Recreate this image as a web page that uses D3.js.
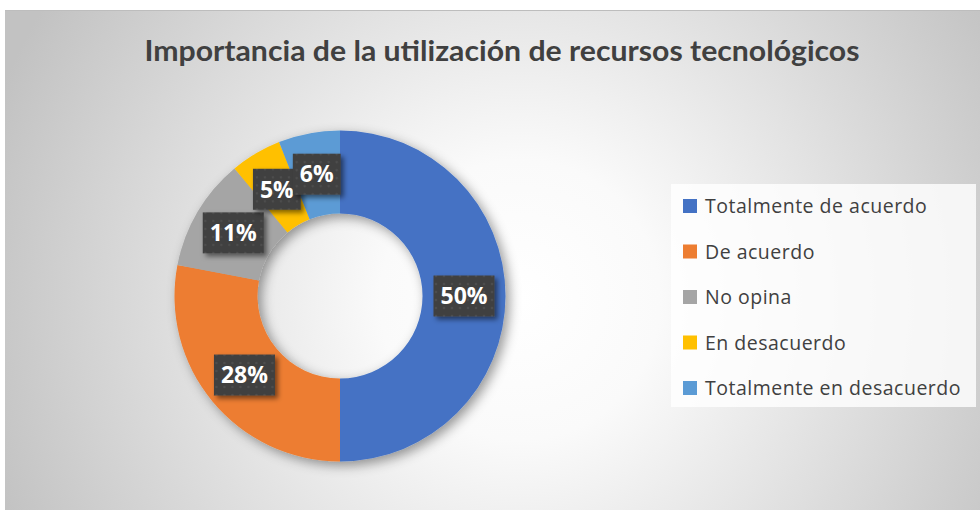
<!DOCTYPE html>
<html>
<head>
<meta charset="utf-8">
<script src="https://cdn.jsdelivr.net/npm/d3@7"></script>
<style>
  html, body { margin: 0; padding: 0; background: #fff; }
  svg { display: block; }
</style>
</head>
<body>
<svg id="chart" width="980" height="510"></svg>
<script>
// data
var categories = ["Totalmente de acuerdo", "De acuerdo", "No opina", "En desacuerdo", "Totalmente en desacuerdo"];
var values = [50, 28, 11, 5, 6];
var colors = ["#4472C4", "#ED7D31", "#A5A5A5", "#FFC000", "#5B9BD5"];
var title = "Importancia de la utilización de recursos tecnológicos";

var svg = d3.select("#chart");
var defs = svg.append("defs");

// background gradient of the chart area
var grad = defs.append("radialGradient")
  .attr("id", "bg")
  .attr("gradientUnits", "userSpaceOnUse")
  .attr("cx", 520).attr("cy", 300).attr("r", 560);
grad.append("stop").attr("offset", "0").attr("stop-color", "#ffffff");
grad.append("stop").attr("offset", "0.25").attr("stop-color", "#fafafa");
grad.append("stop").attr("offset", "1").attr("stop-color", "#c2c2c2");

var shadow = defs.append("filter").attr("id", "shadow")
  .attr("x", "-20%").attr("y", "-20%").attr("width", "150%").attr("height", "150%");
shadow.append("feDropShadow")
  .attr("dx", 4).attr("dy", 4).attr("stdDeviation", 6)
  .attr("flood-color", "#000").attr("flood-opacity", 0.4);

var boxShadow = defs.append("filter").attr("id", "boxshadow")
  .attr("x", "-30%").attr("y", "-30%").attr("width", "170%").attr("height", "170%");
boxShadow.append("feDropShadow")
  .attr("dx", 3).attr("dy", 3).attr("stdDeviation", 2.5)
  .attr("flood-color", "#000").attr("flood-opacity", 0.5);

var pat = defs.append("pattern").attr("id", "dots")
  .attr("patternUnits", "userSpaceOnUse").attr("width", 8).attr("height", 8);
pat.append("rect").attr("width", 8).attr("height", 8).attr("fill", "#404040");
pat.append("circle").attr("cx", 4).attr("cy", 4).attr("r", 1.3).attr("fill", "#4d4d4d");

// chart area
svg.append("rect")
  .attr("x", 5).attr("y", 10).attr("width", 975).attr("height", 500)
  .attr("fill", "url(#bg)");
svg.append("line")
  .attr("x1", 5).attr("x2", 980).attr("y1", 10.5).attr("y2", 10.5)
  .attr("stroke", "#bdbdbd");

// title
svg.append("text")
  .attr("x", 502).attr("y", 61)
  .attr("text-anchor", "middle")
  .attr("font-family", "Lato, 'Open Sans', sans-serif")
  .attr("font-weight", "bold")
  .attr("font-size", 28)
  .attr("fill", "#404040")
  .attr("textLength", 715)
  .attr("lengthAdjust", "spacingAndGlyphs")
  .text(title);

// donut
var cx = 340, cy = 296, outerR = 165.5, innerR = 82.5;

var pie = d3.pie().sort(null).value(function(d) { return d; });
var arc = d3.arc().innerRadius(innerR).outerRadius(outerR);

var g = svg.append("g").attr("transform", "translate(" + cx + "," + cy + ")");

g.append("g").attr("filter", "url(#shadow)")
  .selectAll("path")
  .data(pie(values))
  .enter().append("path")
  .attr("d", arc)
  .attr("fill", function(d, i) { return colors[i]; });

// data labels
var labels = g.selectAll(".lbl")
  .data(pie(values))
  .enter().append("g")
  .attr("class", "lbl")
  .attr("transform", function(d) { return "translate(" + arc.centroid(d) + ")"; });

labels.append("rect").attr("class", "box");
labels.append("text")
  .attr("text-anchor", "middle")
  .attr("dy", "0.36em")
  .attr("font-family", "'Open Sans', sans-serif")
  .attr("font-weight", "bold")
  .attr("font-size", 23)
  .attr("fill", "#ffffff")
  .text(function(d) { return d.data + "%"; });

labels.each(function() {
  var t = d3.select(this).select("text").node();
  var w = t.getComputedTextLength() + 14;
  d3.select(this).select("rect")
    .attr("x", -w / 2).attr("y", -20.5)
    .attr("width", w).attr("height", 41)
    .attr("fill", "url(#dots)")
    .attr("filter", "url(#boxshadow)");
});

// legend
var legend = svg.append("g");
legend.append("rect")
  .attr("x", 671).attr("y", 184).attr("width", 305).attr("height", 223)
  .attr("fill", "#ffffff").attr("fill-opacity", 0.8);

var rowY = d3.scalePoint().domain(categories).range([206, 388]);

var item = legend.selectAll(".item")
  .data(categories)
  .enter().append("g")
  .attr("class", "item")
  .attr("transform", function(d) { return "translate(683," + rowY(d) + ")"; });

item.append("rect")
  .attr("x", 0).attr("y", -7).attr("width", 14).attr("height", 14)
  .attr("fill", function(d, i) { return colors[i]; });

item.append("text")
  .attr("x", 22).attr("dy", "0.36em")
  .attr("font-family", "'Open Sans', sans-serif")
  .attr("font-size", 19.5)
  .attr("letter-spacing", 0.5)
  .attr("fill", "#404040")
  .text(function(d) { return d; });
</script>
</body>
</html>
